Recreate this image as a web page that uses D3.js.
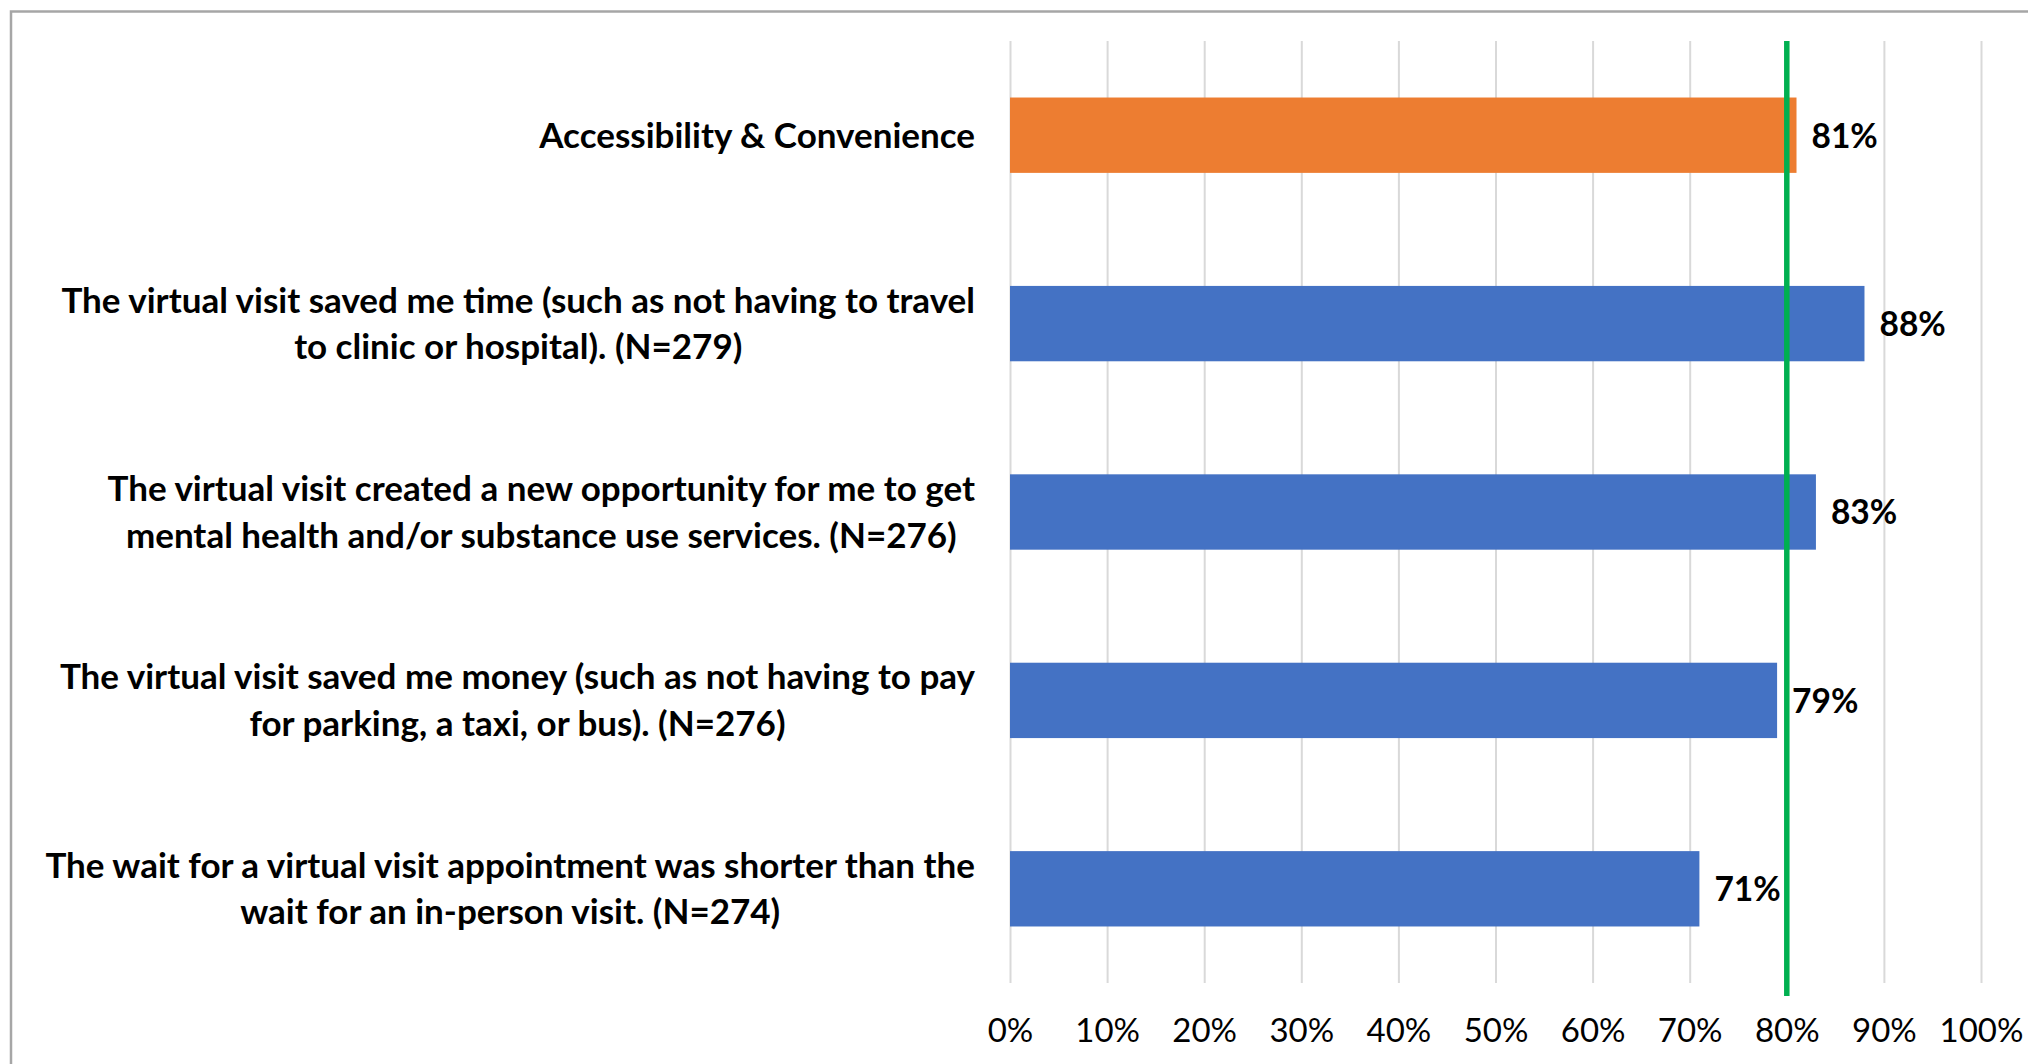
<!DOCTYPE html>
<html>
<head>
<meta charset="utf-8">
<script src="https://cdn.jsdelivr.net/npm/d3@7"></script>
<style>
  html, body { margin: 0; padding: 0; background: #fff; }
  svg { display: block; }
  text { font-family: Lato, "Open Sans", sans-serif; fill: #000; }
</style>
</head>
<body>
<svg id="chart"></svg>
<script>
// data
const categories = [
  'Accessibility & Convenience',
  'The virtual visit saved me time (such as not having to travel\nto clinic or hospital). (N=279)',
  'The virtual visit created a new opportunity for me to get\nmental health and/or substance use services. (N=276)',
  'The virtual visit saved me money (such as not having to pay\nfor parking, a taxi, or bus). (N=276)',
  'The wait for a virtual visit appointment was shorter than the\nwait for an in-person visit. (N=274)',
];
const values = [0.81, 0.88, 0.83, 0.79, 0.71];
const highlighted = ['Accessibility & Convenience'];
const target = 0.8;
const tickValues = [0, 0.1, 0.2, 0.3, 0.4, 0.5, 0.6, 0.7, 0.8, 0.9, 1.0];

const W = 2028, H = 1064;
const plot = { left: 1010, right: 1981, top: 41, bottom: 983 };
const labelFont = 35, valueFont = 33.5, lineHeight = 46.5, capHalf = 12.3;

const svg = d3.select('#chart').attr('width', W).attr('height', H);

// outer frame (cut off at right and bottom in the original)
svg.append('path')
  .attr('d', `M11,${H + 5}V11.5H${W + 5}`)
  .attr('fill', 'none')
  .attr('stroke', '#a6a6a6')
  .attr('stroke-width', 2.5);

const x = d3.scaleLinear().domain([0, 1]).range([plot.left, plot.right]);
const y = d3.scaleBand().domain(categories).range([plot.top, plot.bottom])
  .paddingInner(0.6).paddingOuter(0.3);

// gridlines + tick labels
const axis = d3.axisBottom(x)
  .tickValues(tickValues)
  .tickSize(plot.bottom - plot.top)
  .tickFormat(d3.format('.0%'));

const gAxis = svg.append('g')
  .attr('transform', `translate(0,${plot.top})`)
  .call(axis);
gAxis.select('.domain').remove();
gAxis.selectAll('.tick line').attr('stroke', '#d9d9d9').attr('stroke-width', 2);
gAxis.selectAll('.tick text')
  .attr('y', 1042 - plot.top)
  .attr('dy', null)
  .style('font-size', '33px')
  .style('font-family', 'Lato, sans-serif')
  .attr('fill', '#000');

// bars
const rows = categories.map((c, i) => ({ cat: c, v: values[i] }));

svg.append('g').selectAll('rect')
  .data(rows)
  .join('rect')
  .attr('x', x(0))
  .attr('y', d => y(d.cat))
  .attr('width', d => x(d.v) - x(0))
  .attr('height', y.bandwidth())
  .attr('fill', d => highlighted.includes(d.cat) ? '#ed7d31' : '#4472c4');

// target line
svg.append('line')
  .attr('x1', x(target)).attr('x2', x(target))
  .attr('y1', plot.top).attr('y2', 996)
  .attr('stroke', '#00b050')
  .attr('stroke-width', 5.5);

// value labels
svg.append('g').selectAll('text')
  .data(rows)
  .join('text')
  .attr('x', d => x(d.v) + 15)
  .attr('y', d => y(d.cat) + y.bandwidth() / 2 + capHalf)
  .style('font-size', valueFont + 'px')
  .style('font-weight', 700)
  .text(d => d3.format('.0%')(d.v));

// category labels: block right-aligned to the axis, lines centred in the block
const labelRight = 975;
const gLabels = svg.append('g');
rows.forEach(d => {
  const lines = d.cat.split('\n');
  const mid = y(d.cat) + y.bandwidth() / 2;
  const t = gLabels.append('text')
    .style('font-size', labelFont + 'px')
    .style('font-weight', 700)
    .attr('text-anchor', 'middle');
  const spans = lines.map((ln, i) => t.append('tspan')
    .attr('y', mid - (lines.length - 1) * lineHeight / 2 + i * lineHeight + capHalf)
    .text(ln));
  const maxW = d3.max(spans, s => s.node().getComputedTextLength());
  spans.forEach(s => s.attr('x', labelRight - maxW / 2));
});
</script>
</body>
</html>
